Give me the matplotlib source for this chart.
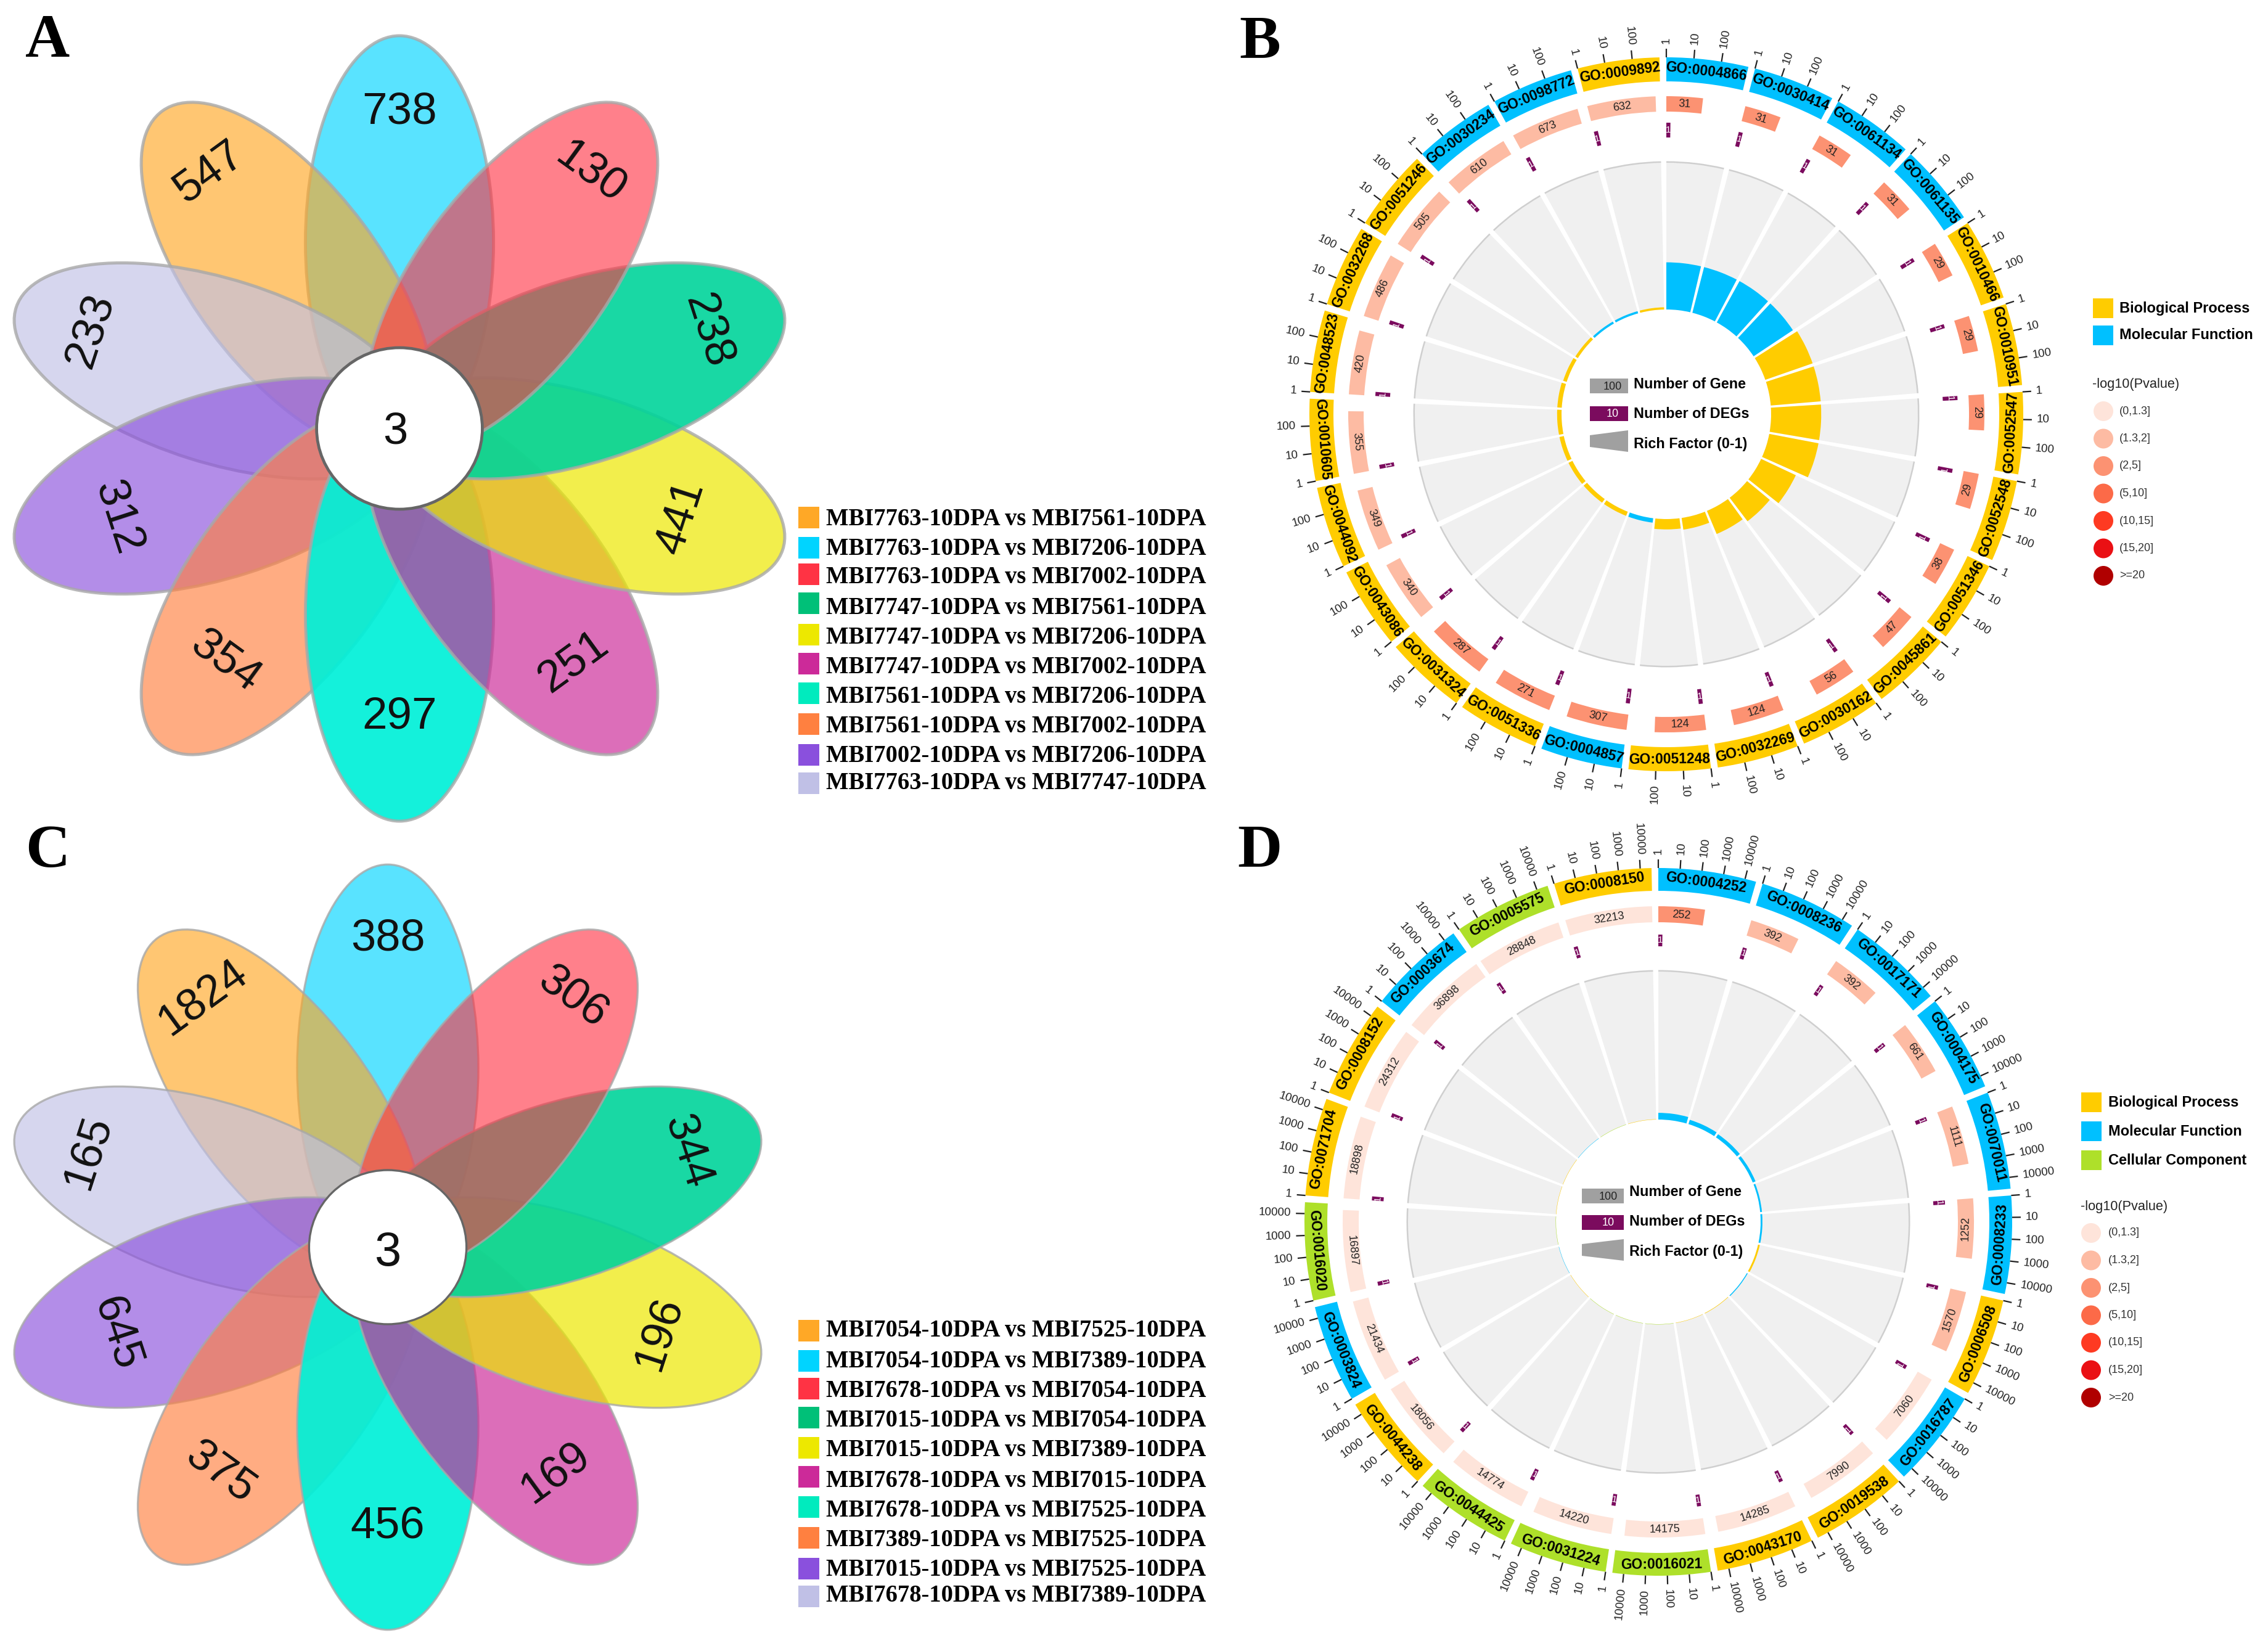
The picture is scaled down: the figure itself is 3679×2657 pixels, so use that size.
import matplotlib
matplotlib.use("Agg")
import matplotlib.pyplot as plt
import numpy as np
from matplotlib.patches import Ellipse, Wedge, Circle, Rectangle, Polygon
from matplotlib.transforms import Affine2D
from matplotlib.colors import to_rgba

SANS = "Liberation Sans"
SERIF = "Liberation Serif"

# flower data, clockwise order starts at the orange petal
petal_colors = ["#FFA826", "#00D4FF", "#FF3344", "#00C078", "#EDE800",
                "#CC2A99", "#00EBBE", "#FF8040", "#8A50DD", "#C0C0E6"]
petal_fill = ["#FFA826", "#00D4FF", "#FF3344", "#00D49A", "#EDE800",
              "#CC2A99", "#00F0D8", "#FF8040", "#8A50DD", "#C0C0E6"]
petal_alpha = [0.65, 0.65, 0.62, 0.9, 0.7, 0.68, 0.92, 0.65, 0.65, 0.65]
petal_angles = [324, 0, 36, 72, 108, 144, 180, 216, 252, 288]
petal_order = [1, 0, 9, 8, 7, 6, 5, 4, 3, 2]

counts_a = [547, 738, 130, 238, 441, 251, 297, 354, 312, 233]
counts_c = [1824, 388, 306, 344, 196, 169, 456, 375, 645, 165]

legend_a = ["MBI7763-10DPA vs MBI7561-10DPA", "MBI7763-10DPA vs MBI7206-10DPA",
            "MBI7763-10DPA vs MBI7002-10DPA", "MBI7747-10DPA vs MBI7561-10DPA",
            "MBI7747-10DPA vs MBI7206-10DPA", "MBI7747-10DPA vs MBI7002-10DPA",
            "MBI7561-10DPA vs MBI7206-10DPA", "MBI7561-10DPA vs MBI7002-10DPA",
            "MBI7002-10DPA vs MBI7206-10DPA", "MBI7763-10DPA vs MBI7747-10DPA"]
legend_c = ["MBI7054-10DPA vs MBI7525-10DPA", "MBI7054-10DPA vs MBI7389-10DPA",
            "MBI7678-10DPA vs MBI7054-10DPA", "MBI7015-10DPA vs MBI7054-10DPA",
            "MBI7015-10DPA vs MBI7389-10DPA", "MBI7678-10DPA vs MBI7015-10DPA",
            "MBI7678-10DPA vs MBI7525-10DPA", "MBI7389-10DPA vs MBI7525-10DPA",
            "MBI7015-10DPA vs MBI7525-10DPA", "MBI7678-10DPA vs MBI7389-10DPA"]

# GO circle B
go_b = ["0004866", "0030414", "0061134", "0061135", "0010466", "0010951", "0052547",
        "0052548", "0051346", "0045861", "0030162", "0032269", "0051248", "0004857",
        "0051336", "0031324", "0043086", "0044092", "0010605", "0048523", "0032268",
        "0051246", "0030234", "0098772", "0009892"]
cat_b = list("MMMMBBBBBBBBBMBBBBBBBBMMB")
genes_b = [31, 31, 31, 31, 29, 29, 29, 29, 38, 47, 56, 124, 124, 307, 271, 287,
           340, 349, 355, 420, 486, 505, 610, 673, 632]
pclass_b = [2] * 16 + [1] * 9
rich_b = [0.32, 0.32, 0.32, 0.32, 0.34, 0.34, 0.34, 0.34, 0.26, 0.20, 0.17, 0.08, 0.07,
          0.03, 0.03, 0.03, 0.03, 0.03, 0.03, 0.03, 0.025, 0.02, 0.015, 0.015, 0.015]

# GO circle D
go_d = ["0004252", "0008236", "0017171", "0004175", "0070011", "0008233", "0006508",
        "0016787", "0019538", "0043170", "0016021", "0031224", "0044425", "0044238",
        "0003824", "0016020", "0071704", "0008152", "0003674", "0005575", "0008150"]
cat_d = list("MMMMMMBMBBCCCBMCBBMCB")
genes_d = [252, 392, 392, 661, 1111, 1252, 1570, 7060, 7990, 14285, 14175, 14220,
           14774, 18056, 21434, 16897, 18898, 24312, 36898, 28848, 32213]
pclass_d = [2, 1, 1, 1, 1, 1, 1] + [0] * 14
rich_d = [0.045, 0.03, 0.025, 0.02, 0.012, 0.012, 0.012, 0.006, 0.003, 0.002, 0.002, 0.002,
          0.002, 0.002, 0.002, 0.002, 0.002, 0.002, 0.002, 0.002, 0.002]

cat_colors = {"B": "#FFCC00", "M": "#00C0FF", "C": "#AEE02A"}
cat_names = {"B": "Biological Process", "M": "Molecular Function", "C": "Cellular Component"}
p_colors = ["#FEE4DA", "#FDBBA3", "#FC9272", "#FC6A48", "#FE3A22", "#EA1014", "#B00000"]
p_labels = ["(0,1.3]", "(1.3,2]", "(2,5]", "(5,10]", "(10,15]", "(15,20]", ">=20"]

fig = plt.figure(figsize=(36.79, 26.57), dpi=100)
ax = fig.add_axes([0, 0, 1, 1])
ax.set_xlim(0, 3679)
ax.set_ylim(2657, 0)
ax.axis("off")


def tangent_rot(a):
    a = a % 360
    return 180 - a if 90 < a < 270 else -a


def polar(cx, cy, r, a):
    t = np.deg2rad(a)
    return cx + r * np.sin(t), cy - r * np.cos(t)


def arc_band(cx, cy, r0, r1, a0, a1, color, z=2):
    ax.add_patch(Wedge((cx, cy), r1, a0 - 90, a1 - 90, width=r1 - r0, fc=color, ec="none", zorder=z))


def flower(cx, cy, sx, d, a, b, hole, r_up, r_low, vals, lw, hole_lw, num_fs, hole_fs, hole_dx, hole_dy):
    for i in petal_order:
        tr = Affine2D().translate(0, -d).rotate_deg(petal_angles[i]).scale(sx, 1).translate(cx, cy)
        ax.add_patch(Ellipse((0, 0), 2 * b, 2 * a, transform=tr + ax.transData,
                             fc=to_rgba(petal_fill[i], petal_alpha[i]), ec=(0.66, 0.66, 0.66, 0.8), lw=lw, zorder=1))
    for i in range(10):
        # labels on the lower petals sit closer to the middle
        label_r = r_low if 90 < petal_angles[i] < 270 else r_up
        x, y = polar(0, 0, label_r, petal_angles[i])
        ax.text(cx + sx * x, cy + y, str(vals[i]), family=SANS, fontsize=num_fs, ha="center", va="center",
                rotation=tangent_rot(petal_angles[i]), rotation_mode="anchor", color="#111111", zorder=3)
    tr = Affine2D().scale(sx, 1).translate(cx, cy)
    ax.add_patch(Circle((0, 0), hole, transform=tr + ax.transData, fc="white", ec="#666666", lw=hole_lw, zorder=2))
    ax.text(cx + hole_dx, cy + hole_dy, "3", family=SANS, fontsize=hole_fs, ha="center", va="center",
            color="#111111", zorder=3)


def flower_legend(labels, box_y, text_y):
    for lab, col, by, ty in zip(labels, petal_colors, box_y, text_y):
        ax.add_patch(Rectangle((1295, by - 17.5), 34, 35, fc=col, ec="none"))
        ax.text(1340, ty, lab, family=SERIF, weight="bold", fontsize=27.8, ha="left", va="center", color="black")


def go_circle(cx, cy, ids, cats, genes, pcls, rich, radii, decade, max_log):
    r_out, r_seg, r2_out, r2_in, r3_out, r3_in, r_gray, r_hole = radii
    step = 360 / len(ids)
    seg_w = step - 1.1
    gray_w = step - 1.2
    deg_w = 6.5 / ((r3_out + r3_in) / 2) * 180 / np.pi
    for i in range(len(ids)):
        s = i * step
        # outer ring with GO id
        arc_band(cx, cy, r_seg, r_out, s, s + seg_w, cat_colors[cats[i]])
        mx, my = polar(cx, cy, (r_seg + r_out) / 2, s + seg_w / 2)
        ax.text(mx, my, "GO:" + ids[i], family=SANS, weight="bold", fontsize=16.5, ha="center", va="center",
                rotation=tangent_rot(s + seg_w / 2), rotation_mode="anchor", color="black", zorder=4)
        # log axis ticks
        for k in range(max_log + 1):
            a = s + k * decade
            x0, y0 = polar(cx, cy, r_out, a)
            x1, y1 = polar(cx, cy, r_out + 14, a)
            ax.plot([x0, x1], [y0, y1], color="#222222", lw=1.6, zorder=3, solid_capstyle="butt")
            tx, ty = polar(cx, cy, r_out + 22, a)
            rot, ha = (90 - a, "left") if a < 180 else (270 - a, "right")
            ax.text(tx, ty, str(10 ** k), family=SANS, fontsize=13.5, ha=ha, va="center", rotation=rot,
                    rotation_mode="anchor", color="#222222", zorder=3)
        # gene count bar
        w = np.log10(genes[i]) * decade
        arc_band(cx, cy, r2_in, r2_out, s, s + w, p_colors[pcls[i]])
        mx, my = polar(cx, cy, (r2_in + r2_out) / 2, s + w / 2)
        ax.text(mx, my, str(genes[i]), family=SANS, fontsize=13, ha="center", va="center",
                rotation=tangent_rot(s + w / 2), rotation_mode="anchor", color="#222222", zorder=4)
        # DEG bar
        arc_band(cx, cy, r3_in, r3_out, s, s + deg_w, "#7B0B5E")
        mx, my = polar(cx, cy, (r3_in + r3_out) / 2, s + deg_w / 2)
        ax.text(mx, my, "1", family=SANS, fontsize=11, ha="center", va="center", color="white",
                rotation=tangent_rot(s + deg_w / 2), rotation_mode="anchor", zorder=4)
        # rich factor track
        arc_band(cx, cy, r_hole, r_gray, s, s + gray_w, "#F0F0F0", z=1)
        arc_band(cx, cy, r_gray - 1, r_gray + 1.5, s, s + gray_w, "#CFCFCF", z=1)
        arc_band(cx, cy, r_hole, r_hole + rich[i] * (r_gray - r_hole), s, s + gray_w, cat_colors[cats[i]])


def center_legend(x0, x1, y_gene, y_deg, y_rich, lab_x, lab_y):
    w = x1 - x0
    ax.add_patch(Rectangle((x0, y_gene - 12), w, 24, fc="#A0A0A0", ec="none"))
    ax.text(x1 - 10, y_gene + 1, "100", family=SANS, fontsize=13, ha="right", va="center", color="#222222")
    ax.add_patch(Rectangle((x0, y_deg - 12), w, 24, fc="#7B0B5E", ec="none"))
    ax.text(x1 - 15, y_deg + 1, "10", family=SANS, fontsize=13, ha="right", va="center", color="white")
    ax.add_patch(Polygon([(x0, y_rich - 10), (x1, y_rich - 18), (x1, y_rich + 17), (x0, y_rich + 9)],
                         fc="#A0A0A0", ec="none"))
    for y, s in zip(lab_y, ["Number of Gene", "Number of DEGs", "Rich Factor (0-1)"]):
        ax.text(lab_x, y, s, family=SANS, weight="bold", fontsize=16.8, ha="left", va="center", color="black")


def side_legend(cats, cat_y, box_x, text_x, title_y, title_x, circ_x, circ_y):
    for c, y in zip(cats, cat_y):
        ax.add_patch(Rectangle((box_x, y - 16), 33, 32, fc=cat_colors[c], ec="none"))
        ax.text(text_x, y, cat_names[c], family=SANS, weight="bold", fontsize=17, ha="left", va="center", color="black")
    ax.text(title_x, title_y, "-log10(Pvalue)", family=SANS, fontsize=15.7, ha="left", va="center", color="#222222")
    for col, lab, y in zip(p_colors, p_labels, circ_y):
        ax.add_patch(Circle((circ_x, y), 16, fc=col, ec="none"))
        ax.text(text_x, y, lab, family=SANS, fontsize=13, ha="left", va="center", color="#333333")


# flowers
flower(648, 695, 1.026, 302, 335, 148.7, 131, 513, 468, counts_a, 3.6, 3.4, 52.5, 52, -7, 6)
flower(629, 2023, 1.021, 290.7, 330, 144, 125, 500, 453, counts_c, 2.4, 2.4, 52, 56, 0, 9)

flower_legend(legend_a, [839, 888, 931, 978, 1029, 1076, 1124, 1174, 1224, 1270],
              [842, 890, 937, 986, 1034, 1082, 1130, 1179, 1227, 1270])
flower_legend(legend_c, [2158, 2207, 2252, 2299, 2348, 2395, 2444, 2494, 2544, 2589],
              [2159, 2208, 2257, 2305, 2353, 2402, 2450, 2498, 2547, 2588])

# GO circles
go_circle(2703, 672, go_b, cat_b, genes_b, pclass_b, rich_b,
          (579, 540, 516, 491, 473, 449, 409, 170), 4.45, 2)
go_circle(2690, 1982, go_d, cat_d, genes_d, pclass_d, rich_d,
          (574, 537, 512, 486, 466, 447, 407, 166), 3.55, 4)

center_legend(2579, 2641, 626, 671, 716, 2650, [624, 672, 721])
center_legend(2566, 2634, 1940, 1983, 2028, 2643, [1934, 1982, 2031])

side_legend(["B", "M"], [500, 544], 3395, 3438, 624, 3394, 3412,
            [667, 711.5, 756, 800.5, 845, 889.5, 934])
side_legend(["B", "M", "C"], [1788, 1835, 1882], 3376, 3420, 1957, 3375, 3392,
            [2000, 2044.5, 2089, 2133.5, 2178, 2222.5, 2267])

# panel letters
for lab, x, y in [("A", 41, 92), ("B", 2010, 93), ("C", 41, 1406), ("D", 2007, 1405)]:
    ax.text(x, y, lab, family=SERIF, weight="bold", fontsize=72, ha="left", va="baseline", color="black")

fig.savefig("out.png", dpi=100, facecolor="white")
